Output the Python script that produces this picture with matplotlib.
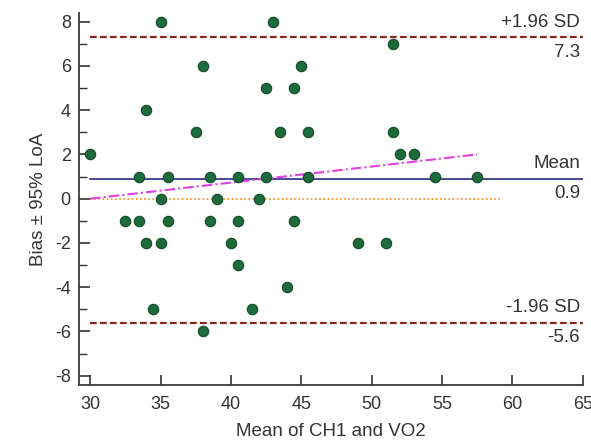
import matplotlib.pyplot as plt
from matplotlib.ticker import MultipleLocator

# Bland-Altman data
mean_x = [30, 32.5, 33.5, 33.5, 34, 34, 34.5, 35, 35, 35, 35.5, 35.5,
          37.5, 38, 38, 38.5, 38.5, 39, 40, 40.5, 40.5, 40.5, 41.5, 42,
          42.5, 42.5, 43, 43.5, 44, 44.5, 44.5, 45, 45.5, 45.5, 49, 51,
          51.5, 51.5, 52, 53, 54.5, 57.5]
diff_y = [2, -1, 1, -1, 4, -2, -5, 8, 0, -2, 1, -1,
          3, 6, -6, 1, -1, 0, -2, 1, -1, -3, -5, 0,
          5, 1, 8, 3, -4, 5, -1, 6, 3, 1, -2, -2,
          7, 3, 2, 2, 1, 1]

bias = 0.9
upper_loa = 7.3
lower_loa = -5.6
line_span = [30, 65]
zero_span = [30, 59.2]
regr_x = [30, 57.5]
regr_y = [0.0, 2.0]

plt.rcParams['font.family'] = ['Liberation Sans', 'DejaVu Sans']
plt.rcParams['axes.unicode_minus'] = False

txt_col = '#333333'

fig = plt.figure(figsize=(5.91, 4.44), dpi=100)
ax = fig.add_axes([0.134, 0.133, 0.852, 0.838])

# limits of agreement and mean
ax.plot(line_span, [upper_loa, upper_loa], color='#8b2323', lw=1.6, ls=(0, (3, 1.5)))
ax.plot(line_span, [lower_loa, lower_loa], color='#8b2323', lw=1.6, ls=(0, (3, 1.5)))
ax.plot(line_span, [bias, bias], color='#272a85', lw=1.2)
ax.plot(zero_span, [0, 0], color='#ff8c1a', lw=1.2, ls=(0, (1, 1.5)))
ax.plot(regr_x, regr_y, color='#e040e0', lw=1.5, ls=(0, (5, 1.5, 1, 1.5)))

ax.plot(mean_x, diff_y, 'o', ms=7.5, mfc='#1d6b3b', mec='#124a28', mew=0.8, zorder=3)

# labels on the right
tx = 64.8
fs = 13.5
ax.text(tx, upper_loa + 0.3, '+1.96 SD', ha='right', va='bottom', fontsize=fs, color=txt_col)
ax.text(tx, upper_loa - 0.3, '%.1f' % upper_loa, ha='right', va='top', fontsize=fs, color=txt_col)
ax.text(tx, bias + 0.3, 'Mean', ha='right', va='bottom', fontsize=fs, color=txt_col)
ax.text(tx, bias - 0.3, '%.1f' % bias, ha='right', va='top', fontsize=fs, color=txt_col)
ax.text(tx, lower_loa + 0.3, '-1.96 SD', ha='right', va='bottom', fontsize=fs, color=txt_col)
ax.text(tx, lower_loa - 0.3, '%.1f' % lower_loa, ha='right', va='top', fontsize=fs, color=txt_col)

ax.set_xlim(29.22, 65)
ax.set_ylim(-8.42, 8.4)
ax.xaxis.set_major_locator(MultipleLocator(5))
ax.yaxis.set_major_locator(MultipleLocator(2))
ax.yaxis.set_minor_locator(MultipleLocator(1))

ax.spines['top'].set_visible(False)
ax.spines['right'].set_visible(False)
for s in ['left', 'bottom']:
    ax.spines[s].set_linewidth(1.3)
    ax.spines[s].set_color('#3a3a3a')

ax.tick_params(axis='x', direction='in', length=7, width=1.2, labelsize=13, colors=txt_col, pad=8)
ax.tick_params(axis='y', which='major', direction='in', length=8, width=1.2, labelsize=13, colors=txt_col, pad=6)
ax.tick_params(axis='y', which='minor', direction='in', length=6, width=1.0, colors=txt_col)

ax.set_xlabel('Mean of CH1 and VO2', fontsize=13.5, color=txt_col, labelpad=7)
ax.set_ylabel('Bias ± 95% LoA', fontsize=13.5, color=txt_col, labelpad=6)

fig.savefig('out.png', dpi=100)
